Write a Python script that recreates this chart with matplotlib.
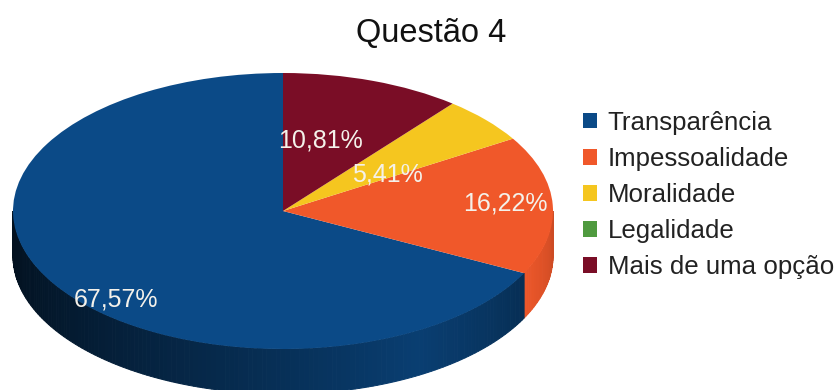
import numpy as np
import matplotlib
matplotlib.use("Agg")
import matplotlib.pyplot as plt
from matplotlib.colors import to_rgb
from matplotlib.patches import Patch

plt.rcParams['font.family'] = ['Liberation Sans', 'DejaVu Sans']

categories = ["Transparência", "Impessoalidade", "Moralidade", "Legalidade", "Mais de uma opção"]
values = [67.57, 16.22, 5.41, 0.0, 10.81]
colors = ["#0b4a87", "#f0582a", "#f5c61f", "#4f9a3f", "#7a0d26"]
label_px = [(116, 299), (505, 204), (387, 175), None, (320, 140)]

W, H = 837, 390
CX, CY, RX, RY = 283, 211, 270, 138
DEPTH = 45 / RY

fig = plt.figure(figsize=(W / 100, H / 100), dpi=100)
ax = fig.add_axes([(CX - RX) / W, 1 - (CY + RY) / H, 2 * RX / W, 2 * RY / H])

wedges, _ = ax.pie(values, colors=colors, startangle=90, radius=1, center=(0, 0),
                   wedgeprops={"linewidth": 0, "zorder": 5})
ax.set_aspect("auto")
ax.set_xlim(-1, 1)
ax.set_ylim(-1, 1)
ax.axis("off")


def shade(color, a):
    # dark towards the left of the side wall, lighter towards the right
    t = 0.22 + 0.62 * (1 - abs(a - 300) / 120) ** 1.3
    return tuple(c * t for c in to_rgb(color))


# side wall of the pie, back to front
start = 90.0
spans = []
for v, c in zip(values, colors):
    end = start + v * 3.6
    spans.append((start, end, c))
    start = end

for s, e, c in sorted(spans, key=lambda x: -x[0]):
    for lo, hi in [(s, e), (s - 360, e - 360)]:
        lo2, hi2 = max(lo, 180), min(hi, 360)
        if hi2 <= lo2:
            continue
        a = np.linspace(lo2, hi2, int(hi2 - lo2) + 2)
        for a0, a1 in zip(a[:-1], a[1:]):
            aa = np.radians([a0, a1])
            xs = np.cos(aa)
            ys = np.sin(aa)
            tone = (a0 + a1) / 2
            fc = shade(c, tone) if c == colors[0] else tuple(
                x * (0.85 + 0.15 * (360 - tone) / 30) for x in to_rgb(c))
            ax.fill([xs[0], xs[1], xs[1], xs[0]],
                    [ys[0], ys[1], ys[1] - DEPTH, ys[0] - DEPTH],
                    facecolor=fc, edgecolor=fc, lw=0.7, clip_on=False,
                    zorder=2 if c != colors[0] else 3)

fig.text(431 / W, 1 - 34 / H, "Questão 4", fontsize=23.5, color="#111111", ha="center", va="center")

for v, pos in zip(values, label_px):
    if pos is None:
        continue
    txt = f"{v:.2f}%".replace(".", ",")
    fig.text(pos[0] / W, 1 - pos[1] / H, txt, fontsize=18, color="#f4f1ea",
             ha="center", va="center", zorder=10)

handles = [Patch(facecolor=c, edgecolor="none") for c in colors]
fig.legend(handles, categories, loc="center left", bbox_to_anchor=(583 / W, 1 - 195 / H),
           frameon=False, fontsize=18.6, labelcolor="#222222", handlelength=0.56, handleheight=0.56,
           handletextpad=0.4, labelspacing=0.47, borderpad=0, borderaxespad=0)

fig.savefig("out.png", dpi=100)
